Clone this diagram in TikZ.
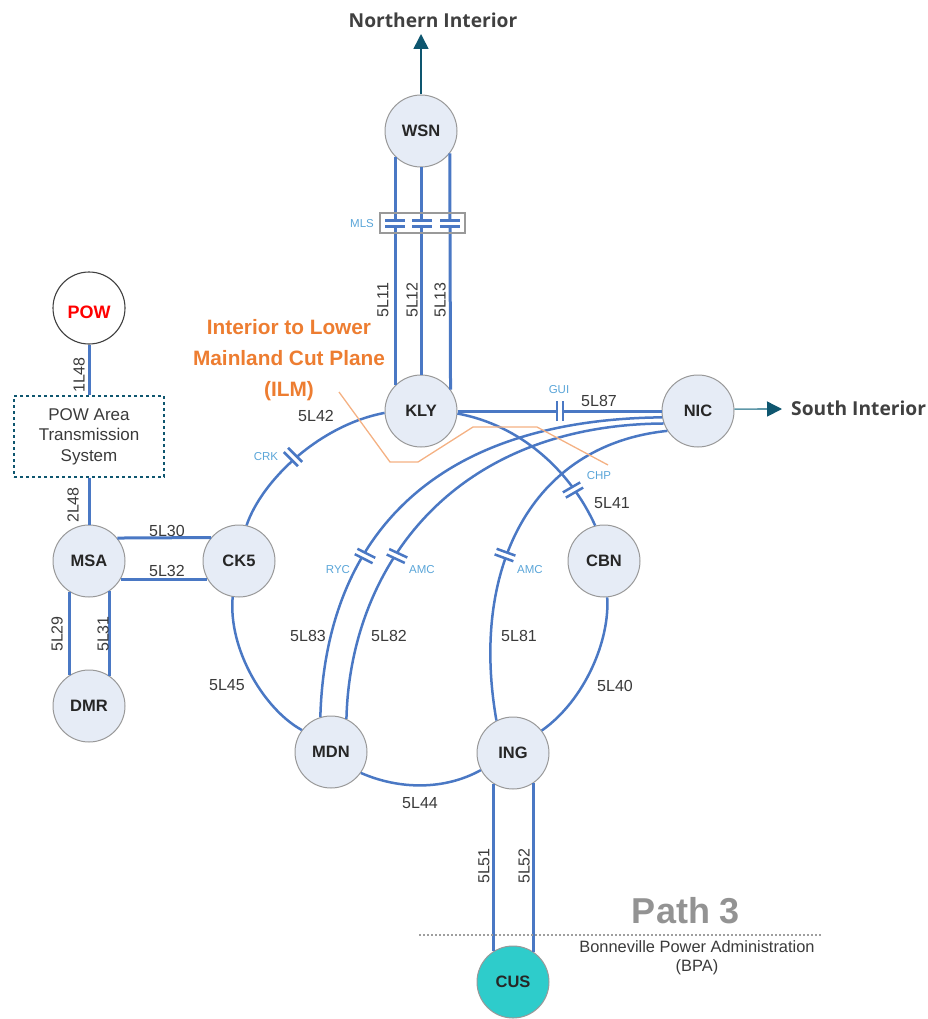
\documentclass[tikz,border=0pt]{standalone}
\usepackage{fontspec}
\setmainfont{Liberation Sans}
\newfontfamily\headfont{Open Sans}
\usetikzlibrary{arrows.meta}
\definecolor{lineblue}{HTML}{4A78C4}
\definecolor{capblue}{HTML}{5AA5D8}
\definecolor{nodefill}{HTML}{E6ECF6}
\definecolor{labelgray}{HTML}{3A3A3A}
\definecolor{tealdark}{HTML}{0E566F}
\definecolor{teallight}{HTML}{5E97A8}
\definecolor{ilm}{HTML}{ED7D31}
\definecolor{ilmline}{HTML}{F4B183}
\definecolor{cusfill}{HTML}{2ECCCB}
\newcommand\capac[3]{\begin{scope}[shift={(#1,#2)},rotate=#3]
  \fill[white] (-8,-3) rectangle (8,3);
  \draw[plate] (-10,-3) -- (10,-3);
  \draw[plate] (-10,3) -- (10,3);
\end{scope}}
\tikzset{
  x=1pt,y=-1pt,
  sta/.style={circle,draw=black!40,line width=1pt,fill=nodefill,minimum size=72pt,inner sep=0pt,font=\fontsize{16.5}{16.5}\selectfont\bfseries,text=black!85},
  ln/.style={draw=lineblue,line width=3pt},
  lnthin/.style={draw=lineblue,line width=2.5pt},
  plate/.style={draw=lineblue,line width=2.5pt},
  lab/.style={font=\fontsize{16}{16}\selectfont,text=labelgray,inner sep=0pt},
  vlab/.style={lab,rotate=90},
  caplab/.style={font=\fontsize{11.5}{11.5}\selectfont,text=capblue,inner sep=0pt},
  outarrow/.style={line width=1.6pt,-{Triangle[length=15pt,width=15pt,color=tealdark]}},
  headlab/.style={font=\headfont\fontsize{19.2}{19.2}\selectfont\bfseries,text=black!75,inner sep=0pt},
}
\begin{document}
\begin{tikzpicture}
\useasboundingbox (0,0) rectangle (928,1019);
% stations
\node[sta] (WSN) at (421,131) {WSN};
\node[sta] (KLY) at (421,411) {KLY};
\node[sta] (NIC) at (698,411) {NIC};
\node[sta] (MSA) at (89,561) {MSA};
\node[sta] (CK5) at (239,561) {CK5};
\node[sta] (CBN) at (604,561) {CBN};
\node[sta] (DMR) at (89,706) {DMR};
\node[sta] (MDN) at (331,752) {MDN};
\node[sta] (ING) at (513,753) {ING};
\node[sta,fill=cusfill] (CUS) at (513,982) {CUS};
\node[circle,draw=black!75,line width=1.1pt,fill=white,minimum size=72pt,inner sep=0pt,text=red,font=\fontsize{18}{18}\selectfont\bfseries] (POW) at (89,308) {\raisebox{-10.5pt}[0pt][0pt]{POW}};
\node[draw=tealdark,dashed,line width=1.1pt,minimum width=150pt,minimum height=81pt,inner sep=0pt,align=center,font=\fontsize{17}{20.5}\selectfont,text=labelgray] (AREA) at (89,436.5) {POW Area\\Transmission\\System};
% ends
\coordinate (northend) at (421,34);
\coordinate (southend) at (782,409);
\coordinate (cutA) at (419,935);
\coordinate (cutB) at (822,935);
\coordinate (i0) at (339,392);
\coordinate (i1) at (390,462);
\coordinate (i2) at (418,462);
\coordinate (i3) at (473,427);
\coordinate (i4) at (537,427);
\coordinate (i5) at (608,465);
% connectors
\draw[ln] (WSN.225) -- (KLY.135);
\draw[ln] (WSN.south) -- (KLY.north);
\draw[ln] (WSN.-38.4) -- (KLY.36.3);
\draw[ln] (POW.south) -- (AREA.north);
\draw[ln] (AREA.south) -- (MSA.north);
\draw[ln] (MSA.39.7) -- (CK5.140.3);
\draw[ln] (MSA.-30) -- (CK5.-150);
\draw[ln] (MSA.-123.75) -- (DMR.123.75);
\draw[ln] (MSA.-56.25) -- (DMR.56.25);
\draw[ln] (ING.-123.75) -- (CUS.123.75);
\draw[ln] (ING.-56.25) -- (CUS.56.25);
\draw[ln] (KLY.east) -- (NIC.west);
\draw[lnthin] (KLY.183) .. controls (320,425) and (262,480) .. (CK5.78);
\draw[lnthin] (KLY.-4) .. controls (520,425) and (570,470) .. (CBN.104);
\draw[lnthin] (NIC.190) .. controls (420,420) and (325,550) .. (MDN.107);
\draw[lnthin] (NIC.200) .. controls (450,425) and (350,570) .. (MDN.65);
\draw[lnthin] (NIC.213) .. controls (530,445) and (470,570) .. (ING.117);
\draw[lnthin] (CBN.-85) .. controls (610,640) and (585,700) .. (ING.38);
\draw[lnthin] (CK5.-100) .. controls (228,650) and (265,710) .. (MDN.143);
\draw[lnthin] (MDN.-35) .. controls (400,790) and (445,790) .. (ING.-152);
\draw[outarrow,draw=tealdark] (WSN.north) -- (northend);
\draw[outarrow,draw=teallight] (NIC.3) -- (southend);
% series capacitors
\draw[draw=black!40,line width=1.5pt,fill=none] (380,213) rectangle (465,233);
\capac{395}{223.5}{0}
\capac{422}{223.5}{0}
\capac{450}{223.5}{0}
\capac{560}{411}{90}
\capac{293}{457}{-45}
\capac{573}{490}{30}
\capac{365}{556}{-27}
\capac{397}{556}{-25}
\capac{505}{555}{-20}
% cut plane
\draw[ilmline,line width=1.3pt] (i0) -- (i1) -- (i2) -- (i3) -- (i4) -- (i5);
\draw[gray!75,line width=1.6pt,dash pattern=on 2pt off 2pt] (cutA) -- (cutB);
% labels
\node[caplab] (lMLS) at (362,224) {MLS};
\node[caplab] (lGUI) at (559,390) {GUI};
\node[caplab] (lCHP) at (599,476) {CHP};
\node[caplab] (lCRK) at (266,457) {CRK};
\node[caplab] (lRYC) at (338,570) {RYC};
\node[caplab] (lAMCa) at (422,570) {AMC};
\node[caplab] (lAMCb) at (530,570) {AMC};
\node[vlab] (l11) at (383,300) {5L11};
\node[vlab] (l12) at (412,300) {5L12};
\node[vlab] (l13) at (440,300) {5L13};
\node[vlab] (l1L) at (79,375) {1L48};
\node[vlab] (l2L) at (73,505) {2L48};
\node[vlab] (l29) at (57,634) {5L29};
\node[vlab] (l31) at (103,634) {5L31};
\node[vlab] (l51) at (484,866) {5L51};
\node[vlab] (l52) at (524,866) {5L52};
\node[lab] (l30) at (167,531) {5L30};
\node[lab] (l32) at (167,571) {5L32};
\node[lab] (l42) at (316,416) {5L42};
\node[lab] (l87) at (599,401) {5L87};
\node[lab] (l41) at (612,503) {5L41};
\node[lab] (l83) at (308,636) {5L83};
\node[lab] (l82) at (389,636) {5L82};
\node[lab] (l81) at (519,636) {5L81};
\node[lab] (l40) at (615,686) {5L40};
\node[lab] (l45) at (227,685) {5L45};
\node[lab] (l44) at (420,803) {5L44};
\node[headlab] (north) at (433,20) {Northern Interior};
\node[headlab,anchor=west] (south) at (791,408) {South Interior};
\node[inner sep=0pt,align=center,font=\fontsize{20.8}{31}\selectfont\bfseries,text=ilm] (ilmtext) at (289,360) {Interior to Lower\\Mainland Cut Plane\\(ILM)};
\node[inner sep=0pt,font=\fontsize{36}{36}\selectfont\bfseries,text=gray!85] (path) at (686,911) {Path 3};
\node[inner sep=0pt,align=center,font=\fontsize{16.4}{19}\selectfont,text=labelgray] (bpa) at (697,958) {Bonneville Power Administration\\(BPA)};
\end{tikzpicture}
\end{document}
